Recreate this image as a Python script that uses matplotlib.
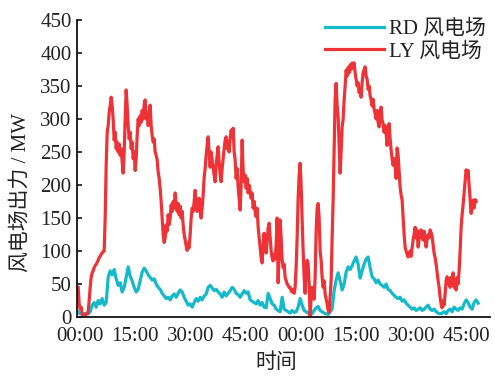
import numpy as np
from matplotlib import pyplot as plt

# Sampling of the traces (minutes); one LY sample per ~0.27 min, RD every ~0.54 min
t_start = -0.54
ly_step = 1 / 3.68
rd_step = 2 / 3.68

# LY wind farm output [MW]
ly_power = [
    45, 20, 12, 15, 5, 3, 3, 4, 4, 5, 8, 25, 45, 60, 67, 70, 75, 78, 80, 83,
    86, 90, 92, 95, 97, 99, 100, 150, 230, 279, 290, 310, 320, 333, 320, 300, 268, 280, 255, 265,
    250, 262, 245, 255, 235, 218, 250, 300, 344, 320, 290, 270, 280, 255, 265, 240, 250, 222, 240, 275,
    300, 290, 305, 295, 313, 300, 322, 329, 300, 310, 290, 305, 321, 290, 275, 265, 270, 250, 245, 238,
    220, 210, 195, 175, 150, 125, 113, 120, 140, 130, 155, 140, 150, 170, 160, 175, 165, 188, 170, 160,
    172, 155, 168, 150, 160, 140, 125, 117, 108, 101, 112, 105, 125, 150, 165, 160, 175, 192, 172, 160,
    175, 180, 160, 150, 165, 185, 212, 225, 245, 260, 273, 250, 227, 250, 238, 225, 215, 205, 230, 245,
    258, 235, 215, 205, 225, 240, 255, 268, 273, 255, 265, 250, 270, 283, 275, 286, 250, 238, 210, 225,
    197, 180, 162, 200, 268, 222, 205, 215, 195, 210, 188, 200, 190, 180, 188, 165, 175, 160, 152, 165,
    136, 120, 105, 90, 82, 110, 127, 105, 97, 115, 135, 142, 120, 100, 90, 85, 95, 88, 110, 150,
    52, 100, 147, 120, 86, 75, 80, 60, 55, 50, 48, 45, 45, 40, 38, 42, 36, 45, 76, 120,
    180, 215, 233, 200, 147, 100, 60, 36, 70, 86, 80, 50, 0, 30, 45, 35, 27, 60, 130, 165,
    172, 150, 100, 86, 60, 45, 55, 35, 27, 20, 10, 7, 30, 55, 120, 177, 250, 330, 354, 320,
    303, 260, 218, 250, 288, 300, 329, 350, 374, 365, 378, 370, 382, 375, 385, 379, 385, 370, 360, 350,
    355, 340, 345, 333, 355, 370, 375, 379, 365, 360, 345, 350, 335, 329, 320, 330, 315, 308, 300, 313,
    295, 288, 305, 318, 298, 293, 280, 290, 278, 260, 283, 293, 270, 253, 240, 230, 240, 227, 210, 256,
    245, 220, 197, 185, 177, 150, 125, 106, 100, 95, 91, 95, 100, 92, 105, 117, 125, 136, 120, 132,
    106, 118, 125, 132, 120, 117, 130, 115, 106, 118, 125, 120, 132, 128, 122, 110, 97, 90, 80, 67,
    55, 45, 30, 20, 14, 25, 18, 35, 55, 61, 50, 58, 45, 60, 50, 67, 45, 55, 41, 60,
    50, 70, 100, 136, 155, 170, 188, 205, 223, 215, 222, 200, 180, 157, 170, 177, 165, 178, 175,
]

# RD wind farm output [MW]
rd_power = [
    8, 5, 4, 5, 6, 5, 8, 18, 22, 15, 25, 20, 28, 18, 22, 60, 70, 64, 72, 58,
    48, 52, 38, 45, 60, 76, 62, 55, 45, 38, 42, 55, 68, 74, 70, 64, 60, 56, 58, 50,
    45, 42, 36, 32, 28, 30, 26, 32, 35, 30, 36, 41, 38, 30, 24, 18, 20, 15, 22, 28,
    24, 30, 26, 32, 35, 45, 48, 44, 40, 42, 38, 35, 30, 38, 32, 36, 40, 45, 42, 36,
    34, 30, 35, 40, 36, 38, 26, 24, 22, 20, 25, 18, 22, 15, 14, 36, 28, 20, 18, 12,
    10, 8, 30, 12, 10, 8, 6, 10, 7, 8, 15, 28, 18, 10, 8, 6, 7, 5, 10, 14,
    16, 10, 8, 6, 5, 4, 8, 12, 40, 56, 67, 55, 41, 50, 68, 76, 72, 78, 85, 91,
    80, 59, 70, 80, 88, 91, 75, 61, 58, 52, 56, 50, 48, 45, 50, 42, 40, 36, 33, 30,
    28, 30, 24, 26, 21, 18, 15, 12, 14, 10, 12, 14, 10, 12, 15, 18, 12, 10, 12, 8,
    6, 5, 6, 8, 5, 10, 12, 8, 15, 12, 10, 14, 12, 20, 26, 22, 15, 12, 22, 26, 21,
]

tick_pos = [0, 15, 30, 45, 60, 75, 90, 105]
tick_labels = ['00:00', '15:00', '30:00', '45:00', '00:00', '15:00', '30:00', '45:00']
y_ticks = [0, 50, 100, 150, 200, 250, 300, 350, 400, 450]

plt.rcParams['font.family'] = ['Liberation Serif', 'Noto Sans CJK SC']
plt.rcParams['font.size'] = 15

t_ly = t_start + ly_step * np.arange(len(ly_power))
t_rd = t_start + rd_step * np.arange(len(rd_power))

fig = plt.figure(figsize=(4.95, 3.77), dpi=100)
ax = fig.add_axes([0.156, 0.159, 0.834, 0.788])

ax.plot(t_rd, rd_power, color='#14B9CA', lw=2.3, label='RD 风电场')
ax.plot(t_ly, ly_power, color='#EE3236', lw=2.3, label='LY 风电场')

ax.set_xlim(-0.8, 111.4)
ax.set_ylim(0, 450)
ax.set_xticks(tick_pos)
ax.set_xticklabels(tick_labels)
ax.set_yticks(y_ticks)
ax.tick_params(axis='x', length=0, pad=7.5, colors='#222222')
ax.tick_params(axis='y', direction='in', length=3.5, width=1.1, pad=4, colors='#222222')
ax.tick_params(axis='y', color='black')

for side in ['top', 'right']:
    ax.spines[side].set_visible(False)
for side in ['left', 'bottom']:
    ax.spines[side].set_linewidth(1.3)
    ax.spines[side].set_color('#111111')

ax.set_xlabel('时间', color='#222222')
ax.set_ylabel('风电场出力 / MW', color='#222222')
ax.xaxis.set_label_coords(0.482, -0.122)
ax.yaxis.set_label_coords(-0.112, 0.42)

ax.legend(loc='upper right', frameon=False, handlelength=2.8, handletextpad=0.25,
          labelspacing=0.15, borderaxespad=0.0, bbox_to_anchor=(1.01, 1.03),
          labelcolor='#222222')

fig.savefig('out.png', dpi=100)
